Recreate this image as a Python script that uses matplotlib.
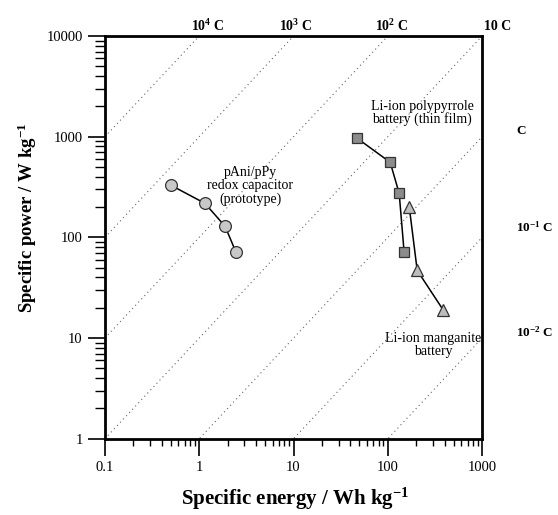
import numpy as np
import matplotlib
matplotlib.use('Agg')
from matplotlib import pyplot as plt
from matplotlib.ticker import LogLocator, FuncFormatter, NullFormatter

plt.rcParams['font.family'] = 'Liberation Serif'
plt.rcParams['mathtext.fontset'] = 'custom'
plt.rcParams['mathtext.bf'] = 'Liberation Serif:bold'
plt.rcParams['mathtext.rm'] = 'Liberation Serif'
plt.rcParams['mathtext.default'] = 'bf'

# pAni/pPy redox capacitor (prototype)
cap_energy = [0.50, 1.15, 1.88, 2.46]
cap_power = [330, 218, 129, 71]

# Li-ion polypyrrole battery (thin film)
ppy_energy = [47, 106, 132, 149]
ppy_power = [970, 557, 274, 71]

# Li-ion manganite battery
mn_energy = [169, 205, 387]
mn_power = [199, 47, 19]

# C-rate lines (power / energy in 1/h)
c_rates = [1e4, 1e3, 1e2, 10, 1, 0.1, 0.01]
top_labels = ['10$^{4}$ C', '10$^{3}$ C', '10$^{2}$ C', '10 C']
right_labels = ['C', '10$^{-1}$ C', '10$^{-2}$ C']

fig = plt.figure(figsize=(5.58, 5.15), dpi=100)
ax = fig.add_axes([0.188, 0.148, 0.676, 0.782])

xx = np.logspace(-1, 3, 200)
for k in c_rates:
    ax.plot(xx, k * xx, ls=(0, (1, 3)), color='#666666', lw=0.8, zorder=1)

ax.plot(cap_energy, cap_power, '-', color='black', lw=1.1, marker='o', ms=8.5,
        mfc='#c8c8c8', mec='#333333', mew=0.9, zorder=3)
ax.plot(ppy_energy, ppy_power, '-', color='black', lw=1.1, marker='s', ms=7,
        mfc='#8c8c8c', mec='#333333', mew=0.9, zorder=3)
ax.plot(mn_energy, mn_power, '-', color='black', lw=1.1, marker='^', ms=8.5,
        mfc='#bdbdbd', mec='#333333', mew=0.9, zorder=3)

ax.set_xscale('log')
ax.set_yscale('log')
ax.set_xlim(0.1, 1000)
ax.set_ylim(1, 10000)

fmt = FuncFormatter(lambda v, p: '%g' % v)
ax.xaxis.set_major_locator(LogLocator(base=10, numticks=10))
ax.yaxis.set_major_locator(LogLocator(base=10, numticks=10))
ax.xaxis.set_major_formatter(fmt)
ax.yaxis.set_major_formatter(fmt)
ax.xaxis.set_minor_formatter(NullFormatter())
ax.yaxis.set_minor_formatter(NullFormatter())
ax.tick_params(which='major', direction='out', length=12, width=1.2, labelsize=10.5, pad=4)
ax.tick_params(axis='x', which='minor', direction='out', length=5, width=1.0)
ax.tick_params(axis='y', which='minor', direction='out', length=7, width=1.0)
ax.tick_params(top=False, right=False)

for s in ax.spines.values():
    s.set_linewidth(2)

fig.text(295 / 558, 1 - 499 / 515, 'Specific energy / Wh kg$^{-1}$', ha='center', va='center',
         fontsize=15, fontweight='bold')
fig.text(27 / 558, 1 - 218 / 515, 'Specific power / W kg$^{-1}$', ha='center', va='center',
         rotation=90, fontsize=13.5, fontweight='bold')

# C-rate labels
top_x = [208, 296, 392, 498]
for lab, px in zip(top_labels, top_x):
    fig.text(px / 558, 1 - 26 / 515, lab, ha='center', va='center', fontsize=10, fontweight='bold')
right_y = [131, 227, 332]
for lab, py in zip(right_labels, right_y):
    fig.text(516 / 558, 1 - py / 515, lab, ha='left', va='center', fontsize=9.5, fontweight='bold')

ax.text(250 / 558, 1 - 186 / 515, 'pAni/pPy\nredox capacitor\n(prototype)', transform=fig.transFigure,
        ha='center', va='center', fontsize=10, linespacing=1.0)
ax.text(422 / 558, 1 - 113 / 515, 'Li-ion polypyrrole\nbattery (thin film)', transform=fig.transFigure,
        ha='center', va='center', fontsize=10, linespacing=1.0)
ax.text(433 / 558, 1 - 345 / 515, 'Li-ion manganite\nbattery', transform=fig.transFigure,
        ha='center', va='center', fontsize=10, linespacing=1.0)

plt.savefig('out.png', dpi=100)
